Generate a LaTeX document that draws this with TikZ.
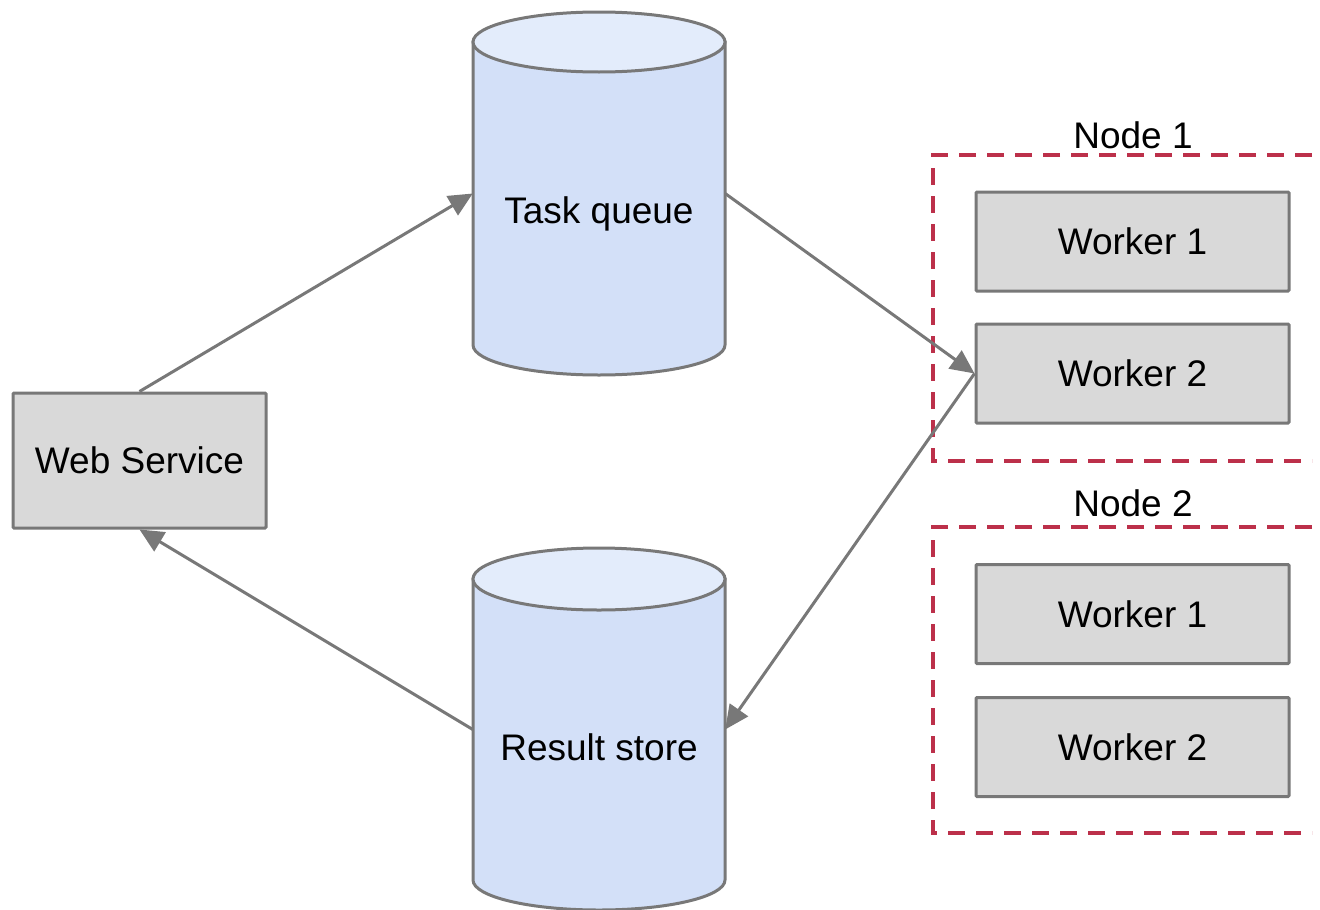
\documentclass[tikz,border=0pt]{standalone}
\usepackage{fontspec}
\setmainfont{Liberation Sans}
\usetikzlibrary{arrows.meta}

\definecolor{edgegray}{RGB}{120,120,120}
\definecolor{boxfill}{RGB}{217,217,217}
\definecolor{dbbody}{RGB}{211,224,248}
\definecolor{dbtop}{RGB}{227,236,251}
\definecolor{groupred}{RGB}{188,48,74}

\begin{document}
\begin{tikzpicture}[x=1pt,y=1pt,
  txt/.style={font=\fontsize{37}{44}\selectfont, inner sep=0pt},
  box/.style={txt, rectangle, draw=edgegray, line width=3pt, fill=boxfill, rounded corners=1pt},
  service/.style={box, minimum width=253pt, minimum height=135pt},
  worker/.style={box, minimum width=313pt, minimum height=99pt},
  dbshell/.style={draw=edgegray, line width=3pt, fill=dbbody},
  dbcap/.style={draw=edgegray, line width=3pt, fill=dbtop},
  dbarea/.style={rectangle, inner sep=0pt, minimum width=252pt},
  flow/.style={draw=edgegray, line width=3pt, -{Triangle[length=24pt,width=22pt]}},
  group/.style={draw=groupred, line width=3.5pt, dash pattern=on 17pt off 11pt},
]
\useasboundingbox (0,0) rectangle (1320,-910);

% --- databases (cylinders) ---
% task queue
\draw[dbshell] (473,-42) -- (473,-345)
  arc[start angle=180, end angle=360, x radius=126pt, y radius=30pt]
  -- (725,-42) -- cycle;
\draw[dbcap] (599,-42) ellipse[x radius=126pt, y radius=30pt];
\node[dbarea, minimum height=303pt] (tq) at (599,-193.5) {};
\node[txt, anchor=base] (tqtext) at (599,-223) {Task queue};

% result store
\draw[dbshell] (473,-579) -- (473,-880)
  arc[start angle=180, end angle=360, x radius=126pt, y radius=30pt]
  -- (725,-579) -- cycle;
\draw[dbcap] (599,-579) ellipse[x radius=126pt, y radius=31pt];
\node[dbarea, minimum height=301pt] (rs) at (599,-729.5) {};
\node[txt, anchor=base] (rstext) at (599,-760) {Result store};

% --- web service ---
\node[service] (ws) at (139.5,-460.5) {Web Service};

% --- worker nodes ---
\draw[group] (1312,-155) -- (933,-155) -- (933,-461) -- (1312,-461);
\node[txt, anchor=base] (n1) at (1133,-148) {Node 1};
\node[worker] (n1w1) at (1132.5,-241.5) {Worker 1};
\node[worker] (n1w2) at (1132.5,-373.5) {Worker 2};

\draw[group] (1312,-527) -- (933,-527) -- (933,-833) -- (1312,-833);
\node[txt, anchor=base] (n2) at (1133,-516) {Node 2};
\node[worker] (n2w1) at (1132.5,-614) {Worker 1};
\node[worker] (n2w2) at (1132.5,-747) {Worker 2};

% --- data flow ---
\draw[flow] (ws.north) -- (tq.west);
\draw[flow] (tq.east) -- (n1w2.west);
\draw[flow] (n1w2.west) -- (rs.east);
\draw[flow] (rs.west) -- (ws.south);
\end{tikzpicture}
\end{document}
